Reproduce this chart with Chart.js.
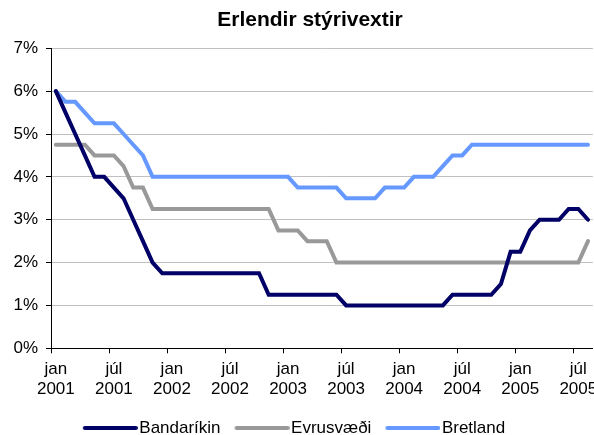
<!DOCTYPE html>
<html>
<head>
<meta charset="utf-8">
<script src="https://cdn.jsdelivr.net/npm/chart.js@4.4.1/dist/chart.umd.min.js"></script>
<style>
  html, body { margin: 0; padding: 0; background: #fff; }
  #wrap { width: 594px; height: 435px; position: relative; }
</style>
</head>
<body>
<div id="wrap"><canvas id="c" width="594" height="435"></canvas></div>
<script>
// Categories: monthly, Jan 2001 - Aug 2005
const categories = [
  'jan 2001','feb 2001','mar 2001','apr 2001','maí 2001','jún 2001','júl 2001','ágú 2001','sep 2001','okt 2001','nóv 2001','des 2001',
  'jan 2002','feb 2002','mar 2002','apr 2002','maí 2002','jún 2002','júl 2002','ágú 2002','sep 2002','okt 2002','nóv 2002','des 2002',
  'jan 2003','feb 2003','mar 2003','apr 2003','maí 2003','jún 2003','júl 2003','ágú 2003','sep 2003','okt 2003','nóv 2003','des 2003',
  'jan 2004','feb 2004','mar 2004','apr 2004','maí 2004','jún 2004','júl 2004','ágú 2004','sep 2004','okt 2004','nóv 2004','des 2004',
  'jan 2005','feb 2005','mar 2005','apr 2005','maí 2005','jún 2005','júl 2005','ágú 2005'
];
// Series values (%)
const bandarikin = [
  6.0,5.5,5.0,4.5,4.0,4.0,3.75,3.5,3.0,2.5,2.0,1.75,
  1.75,1.75,1.75,1.75,1.75,1.75,1.75,1.75,1.75,1.75,1.25,1.25,
  1.25,1.25,1.25,1.25,1.25,1.25,1.0,1.0,1.0,1.0,1.0,1.0,
  1.0,1.0,1.0,1.0,1.0,1.25,1.25,1.25,1.25,1.25,1.5,2.25,
  2.25,2.75,3.0,3.0,3.0,3.25,3.25,3.0
];
const evrusvaedi = [
  4.75,4.75,4.75,4.75,4.5,4.5,4.5,4.25,3.75,3.75,3.25,3.25,
  3.25,3.25,3.25,3.25,3.25,3.25,3.25,3.25,3.25,3.25,3.25,2.75,
  2.75,2.75,2.5,2.5,2.5,2.0,2.0,2.0,2.0,2.0,2.0,2.0,
  2.0,2.0,2.0,2.0,2.0,2.0,2.0,2.0,2.0,2.0,2.0,2.0,
  2.0,2.0,2.0,2.0,2.0,2.0,2.0,2.5
];
const bretland = [
  6.0,5.75,5.75,5.5,5.25,5.25,5.25,5.0,4.75,4.5,4.0,4.0,
  4.0,4.0,4.0,4.0,4.0,4.0,4.0,4.0,4.0,4.0,4.0,4.0,
  4.0,3.75,3.75,3.75,3.75,3.75,3.5,3.5,3.5,3.5,3.75,3.75,
  3.75,4.0,4.0,4.0,4.25,4.5,4.5,4.75,4.75,4.75,4.75,4.75,
  4.75,4.75,4.75,4.75,4.75,4.75,4.75,4.75
];
const seriesNames = ['Bandaríkin', 'Evrusvæði', 'Bretland'];
const seriesColors = ['#000066', '#999999', '#6699FF'];
const titleText = 'Erlendir stýrivextir';
const yTicks = [0, 1, 2, 3, 4, 5, 6, 7];

const FONT = "'Liberation Sans', Arial, sans-serif";
const LEGEND_BOX = 48;

// legend swatch: a short thick line drawn into a small canvas
function swatch(color) {
  const w = LEGEND_BOX + 14, h = 6;
  const cv = document.createElement('canvas');
  cv.width = w; cv.height = h;
  const c = cv.getContext('2d');
  c.strokeStyle = color;
  c.lineWidth = 4;
  c.lineCap = 'round';
  c.beginPath();
  c.moveTo(w - 55 + 2, h / 2);
  c.lineTo(w - 2, h / 2);
  c.stroke();
  return cv;
}

const shiftBoxes = {
  id: 'shiftBoxes',
  afterLayout(chart) {
    if (chart.titleBlock) { chart.titleBlock.left += 26; }
    if (chart.legend) { chart.legend.left -= 3; chart.legend.right -= 3; }
  }
};

new Chart(document.getElementById('c'), {
  type: 'line',
  data: {
    labels: categories,
    datasets: [bandarikin, evrusvaedi, bretland].map((d, i) => ({
      label: seriesNames[i],
      data: d,
      borderColor: seriesColors[i],
      backgroundColor: seriesColors[i],
      borderWidth: 4,
      pointRadius: 0,
      pointHoverRadius: 0,
      tension: 0,
      fill: false,
      borderJoinStyle: 'miter',
      borderCapStyle: 'round',
      pointStyle: swatch(seriesColors[i])
    }))
  },
  plugins: [shiftBoxes],
  options: {
    responsive: false,
    animation: false,
    events: [],
    layout: { padding: { left: 0, right: 0, top: 0, bottom: -11.5 } },
    plugins: {
      title: {
        display: true,
        text: titleText,
        color: '#000',
        font: { family: FONT, size: 21, weight: 'bold', lineHeight: 1.2 },
        padding: { top: 7.4, bottom: 15.7 }
      },
      legend: {
        display: true,
        position: 'bottom',
        labels: {
          usePointStyle: true,
          pointStyleWidth: LEGEND_BOX,
          color: '#000',
          padding: 14,
          font: { family: FONT, size: 17 }
        }
      },
      tooltip: { enabled: false }
    },
    scales: {
      x: {
        type: 'category',
        offset: true,
        afterFit(scale) { scale.height = 57.2; },
        grid: {
          offset: true,
          drawOnChartArea: false,
          drawTicks: true,
          tickLength: 5,
          color: (ctx) => (ctx.index % 6 === 0 ? '#000' : 'rgba(0,0,0,0)')
        },
        border: { display: true, color: '#000', width: 1 },
        ticks: {
          autoSkip: false,
          maxRotation: 0,
          minRotation: 0,
          padding: 6,
          color: '#000',
          font: { family: FONT, size: 17, lineHeight: 1.18 },
          callback: function (value, index) {
            if (index % 6 !== 0) return '';
            return categories[index].split(' ');
          }
        }
      },
      y: {
        min: 0,
        max: 7,
        afterFit(scale) { scale.width = 51; },
        afterBuildTicks(scale) { scale.ticks = yTicks.map(v => ({ value: v })); },
        grid: {
          color: '#c0c0c0',
          lineWidth: 1,
          drawTicks: true,
          tickLength: 5,
          tickColor: '#000'
        },
        border: { display: true, color: '#000', width: 1 },
        ticks: {
          padding: 8,
          color: '#000',
          font: { family: FONT, size: 17 },
          callback: (v) => v + '%'
        }
      }
    }
  }
});
</script>
</body>
</html>
